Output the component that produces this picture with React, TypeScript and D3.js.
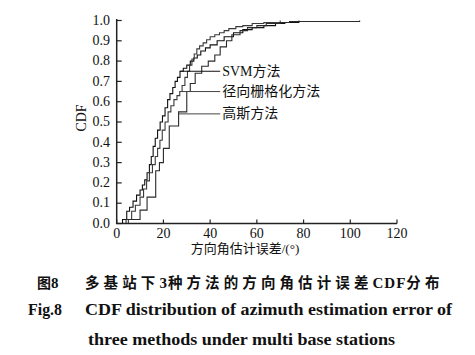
import React from "react";
import * as d3 from "d3";

// ---- data ----
const svmX = [1.5, 2.5, 4.3, 5.5, 7, 8.5, 10, 11, 12, 13, 14, 14.8, 15.6, 16.5, 17.5, 18.6, 19.6, 20.7, 21.8, 22.8, 24, 25, 26, 27.1, 28.5, 30, 31.5, 33, 34.5, 36, 38, 40, 43, 46, 50, 54, 58, 63, 68, 72, 78];
const svmY = [0, 0.02, 0.06, 0.08, 0.11, 0.14, 0.165, 0.19, 0.215, 0.25, 0.29, 0.33, 0.38, 0.42, 0.46, 0.5, 0.53, 0.57, 0.61, 0.64, 0.67, 0.7, 0.72, 0.75, 0.765, 0.78, 0.8, 0.815, 0.83, 0.85, 0.865, 0.88, 0.9, 0.92, 0.94, 0.955, 0.965, 0.975, 0.985, 0.99, 1.0];

const radialX = [3, 5, 6.4, 8, 10, 11.5, 12.8, 14, 15.3, 16.5, 17.5, 18.5, 19.5, 20.7, 22, 23.2, 24.5, 25.8, 27, 28, 29.2, 30.3, 31.2, 32.2, 33.2, 34.3, 35.5, 37, 38.5, 40, 42, 44, 46, 48, 51, 54, 58, 63, 70];
const radialY = [0, 0.02, 0.06, 0.09, 0.13, 0.17, 0.21, 0.25, 0.29, 0.33, 0.37, 0.41, 0.46, 0.5, 0.55, 0.58, 0.61, 0.63, 0.65, 0.68, 0.72, 0.75, 0.78, 0.81, 0.835, 0.86, 0.875, 0.89, 0.905, 0.92, 0.93, 0.94, 0.95, 0.96, 0.97, 0.975, 0.985, 0.99, 1.0];

const gaussX = [2.5, 4, 10, 13, 16.7, 18.3, 20, 22.5, 26.5, 30, 31.5, 33.6, 36.4, 39.2, 42, 44.3, 47, 49.3, 52.8, 56, 60, 64, 70, 74, 104];
const gaussY = [0, 0.02, 0.066, 0.13, 0.26, 0.3, 0.37, 0.48, 0.55, 0.65, 0.69, 0.74, 0.775, 0.8, 0.83, 0.87, 0.9, 0.93, 0.95, 0.965, 0.975, 0.985, 0.99, 0.995, 1.0];

const seriesNames = ["SVM方法", "径向栅格化方法", "高斯方法"];
const labelAnchorX = [27.1, 27, 26.5];
const labelAnchorY = [0.75, 0.65, 0.54];
const labelLineEnd = 44.3;

const xTicks = [0, 20, 40, 60, 80, 100, 120];
const yTicks = [0, 0.1, 0.2, 0.3, 0.4, 0.5, 0.6, 0.7, 0.8, 0.9, 1.0];

const xTitle = "方向角估计误差/(°)";
const yTitle = "CDF";
const captionCnParts = ["多基站下", "3", "种方法的方向角估计误差", "CDF", "分布"];
const captionEnA = "Fig.8";
const captionEnB = "CDF distribution of azimuth estimation error of";
const captionEnC = "three methods under multi base stations";

const W = 475;
const H = 355;
const SERIF = "'Liberation Serif', 'Times New Roman', 'Noto Sans CJK SC', serif";
const CJK = "'Noto Sans CJK SC', 'Liberation Serif', serif";

function isCjk(s: string) {
  return /[\u4e00-\u9fff]/.test(s);
}

export default function App() {
  const x = d3.scaleLinear().domain([0, 120]).range([116.7, 397]);
  const y = d3.scaleLinear().domain([0, 1]).range([223.5, 20.5]);

  const line = d3
    .line<[number, number]>()
    .x((d) => x(d[0]))
    .y((d) => y(d[1]))
    .curve(d3.curveStepAfter);

  const series = [
    { xs: svmX, ys: svmY, color: "#111" },
    { xs: radialX, ys: radialY, color: "#3a3a3a" },
    { xs: gaussX, ys: gaussY, color: "#2a2a2a" },
  ];

  const axisColor = "#222";

  return (
    <svg
      width={W}
      height={H}
      style={{ position: "absolute", left: 0, top: 0, background: "#fff" }}
      fontFamily={SERIF}
    >
      <rect width={W} height={H} fill="#fff" />
      {/* curves */}
      {series.map((s, i) => {
        const pts: [number, number][] = s.xs.map((v, k) => [v, s.ys[k]]);
        return (
          <path key={i} d={line(pts) || ""} fill="none" stroke={s.color} strokeWidth={1.1} />
        );
      })}

      {/* leader lines and labels */}
      {seriesNames.map((name, i) => (
        <g key={name}>
          <line
            x1={x(labelAnchorX[i])}
            x2={x(labelLineEnd)}
            y1={y(labelAnchorY[i])}
            y2={y(labelAnchorY[i])}
            stroke={i === 0 ? "#111" : "#444"}
            strokeWidth={1}
          />
          <text
            x={x(labelLineEnd) + 2}
            y={y(labelAnchorY[i])}
            dominantBaseline="central"
            fontSize={14}
            fill="#111"
          >
            {name}
          </text>
        </g>
      ))}

      {/* y axis */}
      <line x1={x(0)} x2={x(0)} y1={y(1) - 1.5} y2={y(0)} stroke={axisColor} strokeWidth={1.5} />
      {yTicks.map((t) => (
        <g key={"y" + t}>
          <line x1={x(0)} x2={x(0) + 5} y1={y(t)} y2={y(t)} stroke={axisColor} strokeWidth={1.2} />
          <text x={110} y={y(t) + 1} textAnchor="end" dominantBaseline="middle" fontSize={14} fill="#111">
            {t.toFixed(1)}
          </text>
        </g>
      ))}

      {/* x axis */}
      <line x1={x(0) - 0.75} x2={x(120)} y1={y(0)} y2={y(0)} stroke={axisColor} strokeWidth={1.5} />
      {xTicks.map((t) => (
        <g key={"x" + t}>
          <line x1={x(t)} x2={x(t)} y1={y(0)} y2={y(0) - 4} stroke={axisColor} strokeWidth={1.2} />
          <text x={x(t)} y={238} textAnchor="middle" fontSize={14} fill="#111">
            {t}
          </text>
        </g>
      ))}

      {/* axis titles */}
      <text x={245} y={253} textAnchor="middle" fontSize={13} fill="#111">
        {xTitle}
      </text>
      <text
        transform={`translate(86,118) rotate(-90)`}
        textAnchor="middle"
        fontSize={14}
        fill="#111"
      >
        {yTitle}
      </text>

      {/* captions */}
      <text x={37} y={288} fontSize={14} fontWeight="bold" fill="#111" fontFamily={CJK}>
        <tspan fontFamily={CJK}>图</tspan>
        <tspan fontFamily={SERIF} fontSize={15}>8</tspan>
      </text>
      <text x={85} y={288} fontSize={15} fontWeight="bold" fill="#111">
        {captionCnParts.map((p, i) =>
          isCjk(p) ? (
            <tspan key={i} fontFamily={CJK} fontSize={14.5} style={{ letterSpacing: "4.1px" }}>
              {p}
            </tspan>
          ) : (
            <tspan key={i} fontFamily={SERIF} style={{ letterSpacing: "1px" }}>
              {p}
            </tspan>
          )
        )}
      </text>
      <text x={28} y={315} fontSize={16} fontWeight="bold" fill="#111" textLength={34} lengthAdjust="spacingAndGlyphs">
        {captionEnA}
      </text>
      <text x={85} y={315} fontSize={16} fontWeight="bold" fill="#111" textLength={367} lengthAdjust="spacingAndGlyphs">
        {captionEnB}
      </text>
      <text x={88} y={345} fontSize={16} fontWeight="bold" fill="#111" textLength={307} lengthAdjust="spacingAndGlyphs">
        {captionEnC}
      </text>
    </svg>
  );
}
